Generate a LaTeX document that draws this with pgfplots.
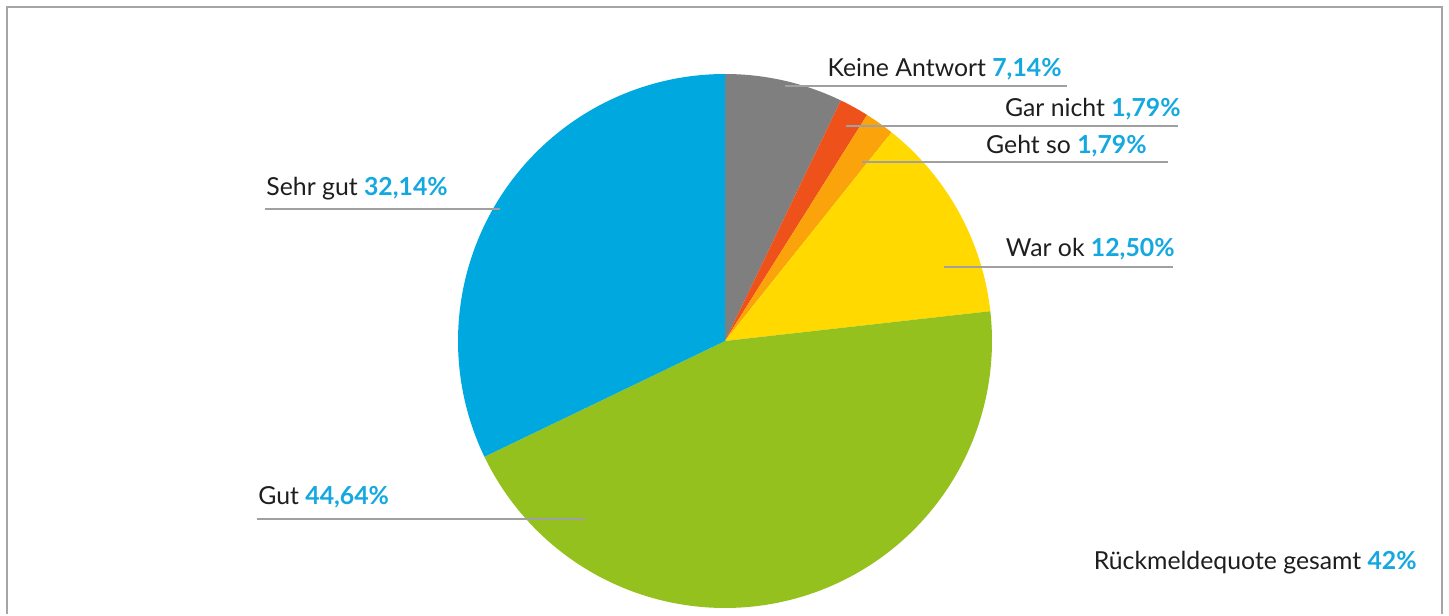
\documentclass[border=0pt]{standalone}
\usepackage{pgfplots}
\pgfplotsset{compat=1.18}
\usepackage{fontspec}
\setmainfont{Lato}[BoldFont={* Bold}]
\definecolor{cGray}{RGB}{128,127,127}
\definecolor{cRed}{RGB}{238,81,25}
\definecolor{cOrange}{RGB}{250,163,10}
\definecolor{cYellow}{RGB}{255,217,0}
\definecolor{cGreen}{RGB}{149,193,31}
\definecolor{cBlue}{RGB}{0,168,224}
\definecolor{cPct}{RGB}{20,168,224}
\definecolor{cTxt}{RGB}{30,30,30}
\definecolor{cLine}{RGB}{160,160,160}
\definecolor{cFrame}{RGB}{165,165,165}
% shares in percent (clockwise from the top)
\def\pA{7.14}  % Keine Antwort
\def\pB{1.79}  % Gar nicht
\def\pC{1.79}  % Geht so
\def\pD{12.50} % War ok
\def\pE{44.64} % Gut
\def\pF{32.14} % Sehr gut
\pgfmathsetmacro\aA{90}
\pgfmathsetmacro\aB{\aA-3.6*\pA}
\pgfmathsetmacro\aC{\aB-3.6*\pB}
\pgfmathsetmacro\aD{\aC-3.6*\pC}
\pgfmathsetmacro\aE{\aD-3.6*\pD}
\pgfmathsetmacro\aF{\aE-3.6*\pE}
\pgfmathsetmacro\aG{\aF-3.6*\pF}
\def\R{267}
\newcommand\lbl[2]{{\color{cTxt}#1} {\bfseries\color{cPct}#2}}
\begin{document}
\begin{tikzpicture}
\begin{axis}[
  x=0.5pt, y=0.5pt,
  xmin=-725, xmax=724, ymin=-273, ymax=341,
  hide axis, clip=false,
]
\path (axis cs:-725,-273) rectangle (axis cs:724,341);
\addplot[fill=cGray, draw=none, domain=\aB:\aA, samples=40, data cs=polar] (x,\R) -- (axis cs:0,0) -- cycle;
\addplot[fill=cRed, draw=none, domain=\aC:\aB, samples=10, data cs=polar] (x,\R) -- (axis cs:0,0) -- cycle;
\addplot[fill=cOrange, draw=none, domain=\aD:\aC, samples=10, data cs=polar] (x,\R) -- (axis cs:0,0) -- cycle;
\addplot[fill=cYellow, draw=none, domain=\aE:\aD, samples=40, data cs=polar] (x,\R) -- (axis cs:0,0) -- cycle;
\addplot[fill=cGreen, draw=none, domain=\aF:\aE, samples=120, data cs=polar] (x,\R) -- (axis cs:0,0) -- cycle;
\addplot[fill=cBlue, draw=none, domain=\aG:\aF, samples=100, data cs=polar] (x,\R) -- (axis cs:0,0) -- cycle;
% leader lines
\draw[cLine, line width=0.9pt] (axis cs:60,255) -- (axis cs:342,255);
\draw[cLine, line width=0.9pt] (axis cs:121,215) -- (axis cs:453,215);
\draw[cLine, line width=0.9pt] (axis cs:137,179) -- (axis cs:443,179);
\draw[cLine, line width=0.9pt] (axis cs:219,74) -- (axis cs:448,74);
\draw[cLine, line width=0.9pt] (axis cs:-460,132) -- (axis cs:-225,132);
\draw[cLine, line width=0.9pt] (axis cs:-468,-178) -- (axis cs:-140,-178);
% labels
\node[anchor=base east, inner sep=0pt, font=\fontsize{12.4}{14}\selectfont] at (axis cs:337,264) {\lbl{Keine Antwort}{7,14\%}};
\node[anchor=base east, inner sep=0pt, font=\fontsize{12.4}{14}\selectfont] at (axis cs:456,224) {\lbl{Gar nicht}{1,79\%}};
\node[anchor=base east, inner sep=0pt, font=\fontsize{12.4}{14}\selectfont] at (axis cs:422,187) {\lbl{Geht so}{1,79\%}};
\node[anchor=base east, inner sep=0pt, font=\fontsize{12.4}{14}\selectfont] at (axis cs:450,84) {\lbl{War ok}{12,50\%}};
\node[anchor=base west, inner sep=0pt, font=\fontsize{12.4}{14}\selectfont] at (axis cs:-459,145) {\lbl{Sehr gut}{32,14\%}};
\node[anchor=base west, inner sep=0pt, font=\fontsize{12.4}{14}\selectfont] at (axis cs:-467,-164) {\lbl{Gut}{44,64\%}};
\node[anchor=base east, inner sep=0pt, font=\fontsize{12.4}{14}\selectfont] at (axis cs:692,-228) {\lbl{Rückmeldequote gesamt}{42\%}};
% frame
\draw[cFrame, line width=1pt] (axis cs:-718,-273) -- (axis cs:-718,334) -- (axis cs:717,334) -- (axis cs:717,-273);
\end{axis}
\end{tikzpicture}
\end{document}
